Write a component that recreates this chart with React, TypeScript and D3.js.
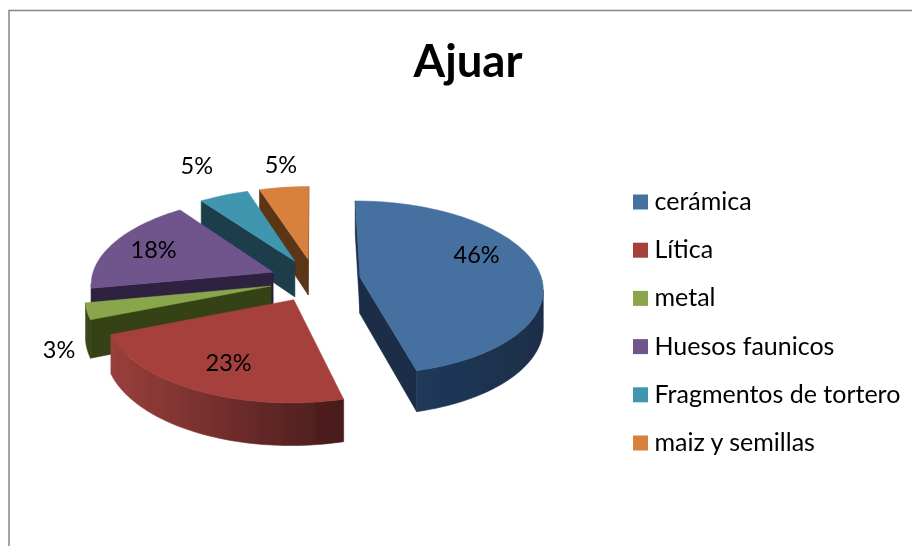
import React from "react";
import * as d3 from "d3";

const categories = ["cerámica", "Lítica", "metal", "Huesos faunicos", "Fragmentos de tortero", "maiz y semillas"];
const values = [46, 23, 3, 18, 5, 5];
const topColors = ["#44709F", "#A5403E", "#8AA64E", "#70558D", "#3F96AE", "#D8803C"];
const rimLight = ["#20395A", "#9A3F3C", "#3A4A1C", "#2D2040", "#1A3D4A", "#5A3517"];
const rimDark = ["#1B2E47", "#471B1B", "#364219", "#2D2040", "#1A3D4A", "#5A3517"];
const drawOrder = [5, 4, 3, 2, 1, 0];
const labelFrac = [0.64, 0.76, 1.1, 0.7, 1.22, 1.0];
const labelNudge: [number, number][] = [[3, -17], [7, -5], [-9, 35], [-7, -2], [-13, -17], [-3, -23]];

const W = 912, H = 546;
const CX = 315, CY = 280, R = 182, T = 86, K = 0.118, DEPTH = 36.5, EXPLODE = 0.25;
const FONT = "Lato, Carlito, Calibri, sans-serif";

type P = [number, number];
const project = (X: number, Y: number, z = 0): P => {
  const d = 1 - K * Y;
  return [CX + (R * X) / d, CY + (T * Y + z * DEPTH) / d];
};
const polar = (a: number, r: number): P => [r * Math.sin(a), -r * Math.cos(a)];

const arcs = d3.pie<number>().sort(null).value((d) => d)(values);
const line = d3.line();

function Slice({ i }: { i: number }) {
  const a = arcs[i];
  const mid = (a.startAngle + a.endAngle) / 2;
  const [ox, oy] = polar(mid, EXPLODE);
  const on = (ang: number, r: number, z = 0) => {
    const [x, y] = polar(ang, r);
    return project(ox + x, oy + y, z);
  };
  const n = Math.max(4, Math.ceil((a.endAngle - a.startAngle) / (Math.PI / 120)));
  const angs = d3.range(n + 1).map((k) => a.startAngle + ((a.endAngle - a.startAngle) * k) / n);
  const top: P[] = [on(0, 0), ...angs.map((g) => on(g, 1))];
  const quad = (a1: number, r1: number, a2: number, r2: number): P[] => [
    on(a1, r1), on(a2, r2), on(a2, r2, 1), on(a1, r1, 1),
  ];
  const visible = (q: P[]) => d3.polygonArea(q) > 0.01;
  const flat: P[][] = [quad(a.startAngle, 0, a.startAngle, 1), quad(a.endAngle, 1, a.endAngle, 0)].filter(visible);
  const rimAngs = angs.filter((g, k) => {
    const prev = quad(angs[Math.max(0, k - 1)], 1, g, 1);
    const next = quad(g, 1, angs[Math.min(n, k + 1)], 1);
    return visible(prev) || visible(next);
  });
  const rim: P[] = [...rimAngs.map((g) => on(g, 1)), ...rimAngs.slice().reverse().map((g) => on(g, 1, 1))];
  const xs = rim.map((p) => p[0]);
  const gid = `rim${i}`;
  return (
    <g>
      <defs>
        <linearGradient id={gid} gradientUnits="userSpaceOnUse" x1={d3.min(xs) ?? 0} x2={d3.max(xs) ?? 1} y1={0} y2={0}>
          <stop offset="0" stopColor={rimLight[i]} />
          <stop offset="1" stopColor={rimDark[i]} />
        </linearGradient>
      </defs>
      {flat.map((q, k) => (
        <path key={k} d={line(q)! + "Z"} fill={rimDark[i]} stroke={rimDark[i]} strokeWidth={0.6} />
      ))}
      {rim.length > 2 && <path d={line(rim)! + "Z"} fill={`url(#${gid})`} stroke={`url(#${gid})`} strokeWidth={0.6} />}
      <path d={line(top)! + "Z"} fill={topColors[i]} stroke={topColors[i]} strokeWidth={0.5} />
    </g>
  );
}

function Label({ i }: { i: number }) {
  const a = arcs[i];
  const mid = (a.startAngle + a.endAngle) / 2;
  const [ox, oy] = polar(mid, EXPLODE);
  const [x, y] = polar(mid, labelFrac[i]);
  const p = project(ox + x, oy + y);
  return (
    <text x={p[0] + labelNudge[i][0]} y={p[1] + labelNudge[i][1]} textAnchor="middle" dominantBaseline="central"
      fontFamily={FONT} fontSize={23.5} fill="#000">
      {values[i]}%
    </text>
  );
}

const legendY = d3.scalePoint<string>().domain(categories).range([202, 443]);

export default function App() {
  return (
    <svg width={W} height={H} viewBox={`0 0 ${W} ${H}`} style={{ position: "fixed", left: 0, top: 0, background: "#fff" }}>
      <defs>
        <filter id="soft" x="-5%" y="-5%" width="110%" height="110%">
          <feGaussianBlur stdDeviation={0.4} />
        </filter>
      </defs>
      <path d={`M9 ${H}V10.5H${W}`} fill="none" stroke="#868686" strokeWidth={1.5} />
      <g filter="url(#soft)">
        <text x={468} y={77} textAnchor="middle" fontFamily={FONT} fontWeight={700} fontSize={45.5} fill="#000">Ajuar</text>
        {drawOrder.map((i) => <Slice key={i} i={i} />)}
        {values.map((_, i) => <Label key={i} i={i} />)}
        {categories.map((c, i) => (
          <g key={c}>
            <rect x={633} y={legendY(c)! - 7.5} width={15} height={15} fill={topColors[i]} />
            <text x={654.5} y={legendY(c)! + 8} fontFamily={FONT} fontSize={25} fill="#000">{c}</text>
          </g>
        ))}
      </g>
    </svg>
  );
}
